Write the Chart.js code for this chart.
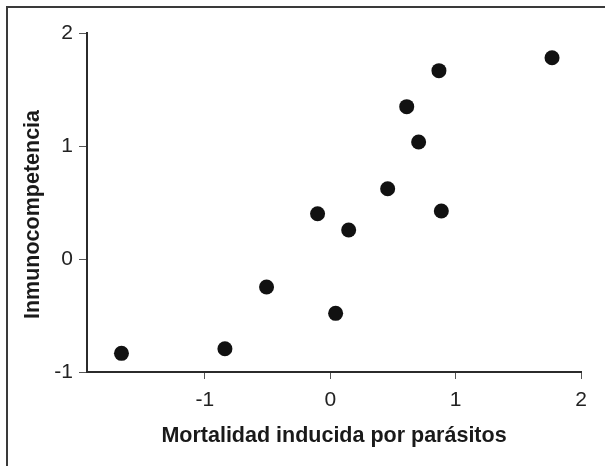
<!DOCTYPE html>
<html>
<head>
<meta charset="utf-8">
<script src="https://cdn.jsdelivr.net/npm/chart.js@4"></script>
<style>
    html, body { margin: 0; padding: 0; background: #fff; }
    #wrap { width: 605px; height: 466px; position: relative; }
</style>
</head>
<body>
<div id="wrap"><canvas id="scatterChart" width="605" height="466"></canvas></div>
<script>
// === DATOS ===
const mortalidad = [-1.665, -0.840, -0.508, -0.101, 0.043, 0.147, 0.458, 0.610, 0.705, 0.886, 0.867, 1.769];
const inmuno     = [-0.835, -0.794, -0.248, 0.401, -0.481, 0.257, 0.622, 1.348, 1.035, 0.425, 1.667, 1.781];
const xTicks = [-1, 0, 1, 2];
const yTicks = [-1, 0, 1, 2];

const points = mortalidad.map((x, i) => ({ x: x, y: inmuno[i] }));

// marco exterior (solo lados izquierdo y superior visibles)
const framePlugin = {
    id: 'frame',
    afterDraw(chart) {
        const ctx = chart.ctx;
        ctx.save();
        ctx.strokeStyle = '#3a3a3a';
        ctx.lineWidth = 2;
        ctx.beginPath();
        ctx.moveTo(7, 470);
        ctx.lineTo(7, 7);
        ctx.lineTo(610, 7);
        ctx.stroke();
        ctx.restore();
    }
};

// baja un poco el título del eje Y
const yTitleShift = {
    id: 'yTitleShift',
    afterLayout(chart) {
        const s = chart.scales.y;
        if (s._shifted) return;
        const orig = s.drawTitle.bind(s);
        s.drawTitle = function(area) {
            this.ctx.save();
            this.ctx.translate(0, 12);
            orig(area);
            this.ctx.restore();
        };
        s._shifted = true;
    }
};

const axisColor = '#2b2b2b';
const font = "Arial, 'Liberation Sans', sans-serif";

// === DISPERSIÓN ===
const ctx = document.getElementById('scatterChart').getContext('2d');
new Chart(ctx, {
    type: 'scatter',
    data: {
        datasets: [{
            data: points,
            backgroundColor: '#111111',
            borderColor: '#111111',
            pointRadius: 7.5,
            pointHoverRadius: 7.5,
            borderWidth: 0
        }]
    },
    options: {
        responsive: false,
        animation: false,
        layout: { padding: { left: 20, top: 33, right: 24, bottom: 17 } },
        plugins: {
            legend: { display: false },
            tooltip: { enabled: false }
        },
        scales: {
            x: {
                type: 'linear',
                min: -1.94,
                max: 2,
                afterBuildTicks: s => { s.ticks = xTicks.map(v => ({ value: v })); },
                afterFit: s => { s.height = 77; },
                border: { display: true, color: axisColor, width: 2 },
                grid: { drawOnChartArea: false, drawTicks: true, tickLength: 7, color: '#555', lineWidth: 1 },
                ticks: {
                    color: '#222',
                    padding: 9,
                    font: { family: font, size: 21 },
                    callback: v => String(v)
                },
                title: {
                    display: true,
                    text: 'Mortalidad inducida por parásitos',
                    color: '#1a1a1a',
                    padding: 0,
                    font: { family: font, size: 21.5, weight: 'bold' }
                }
            },
            y: {
                type: 'linear',
                min: -1,
                max: 2,
                afterBuildTicks: s => { s.ticks = yTicks.map(v => ({ value: v })); },
                afterFit: s => { s.width = 67; },
                border: { display: true, color: axisColor, width: 2 },
                grid: { drawOnChartArea: false, drawTicks: true, tickLength: 8, color: '#555', lineWidth: 1 },
                ticks: {
                    color: '#222',
                    padding: 6,
                    font: { family: font, size: 21 },
                    callback: v => String(v)
                },
                title: {
                    display: true,
                    text: 'Inmunocompetencia',
                    color: '#1a1a1a',
                    padding: 0,
                    font: { family: font, size: 21.5, weight: 'bold' }
                }
            }
        }
    },
    plugins: [framePlugin, yTitleShift]
});
</script>
</body>
</html>
